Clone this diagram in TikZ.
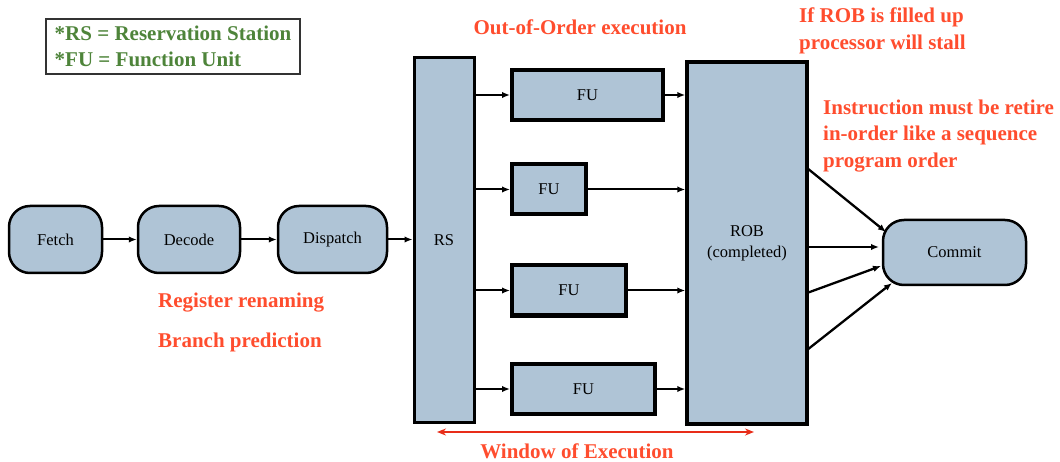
\documentclass[tikz,border=0pt]{standalone}
\usepackage{fontspec}
\setmainfont{Liberation Serif}
\usepackage{xcolor}
\usepackage{tikz}
\usetikzlibrary{positioning,shapes,arrows.meta}

\definecolor{boxblue}{RGB}{175,196,214}
\definecolor{notered}{RGB}{255,77,46}
\definecolor{winred}{RGB}{232,45,25}
\definecolor{keygreen}{RGB}{78,132,58}

\begin{document}
\begin{tikzpicture}[x=1pt,y=-1pt,
			stage/.style = {draw, line width=2.5pt, rounded corners=21pt,
				fill=boxblue, inner sep=0pt, minimum height=67pt,
				font=\fontsize{16.5}{19}\selectfont},
			unit/.style = {draw, line width=3.5pt, fill=boxblue, inner sep=0pt,
				minimum height=50pt, font=\fontsize{16.5}{21}\selectfont},
			note/.style = {text=notered, inner sep=0pt, align=left,
				font=\fontsize{21}{26.5}\selectfont\bfseries},
			flow/.style = {line width=2pt, -{Latex[length=8pt,width=6.5pt]}}]
			\useasboundingbox (0,0) rectangle (1060,462);
			\node[draw=black!80, line width=1.5pt, text=keygreen, align=left,
				minimum width=254pt, minimum height=55pt, inner sep=0pt,
				font=\fontsize{21}{26}\selectfont\bfseries] (key) at (173,46.5)
				{*RS = Reservation Station\\*FU = Function Unit};
			\node[stage, minimum width=93pt] (fetch) at (55.5,239.5) {Fetch};
			\node[stage, minimum width=102pt] (decode) at (189,239.5) {Decode};
			\node[stage, minimum width=109pt] (dispatch) at (332.5,239.5) {Dispatch};
			\node[unit, line width=3pt, minimum width=60pt, minimum height=364pt] (rs) at (444,240) {RS};
			\node[unit, line width=4pt, minimum width=151pt] (fu1) at (587.5,95) {FU};
			\node[unit, line width=4pt, minimum width=74pt] (fu2) at (549,189.5) {FU};
			\node[unit, line width=4pt, minimum width=114pt] (fu3) at (569,290.5) {FU};
			\node[unit, line width=4pt, minimum width=143pt] (fu4) at (583.5,389) {FU};
			\node[unit, align=center, minimum width=120pt, minimum height=362pt] (rob) at (747,243)
				{ROB\\(completed)};
			\node[stage, minimum width=143pt, minimum height=65pt] (commit) at (954.5,252.5) {Commit};
			\draw[flow] (fetch) -- (decode);
			\draw[flow] (decode) -- (dispatch);
			\draw[flow] (dispatch) -- (dispatch -| rs.west);
			\foreach \f in {fu1,fu2,fu3,fu4}
			{
				\draw[flow] (\f.west -| rs.east) -- (\f.west);
				\draw[flow] (\f.east) -- (\f.east -| rob.west);
			}
			\coordinate (out1) at (807,168);
			\coordinate (out2) at (807,247);
			\coordinate (out3) at (807,293);
			\coordinate (out4) at (807,350);
			\coordinate (in1) at (886,232);
			\coordinate (in2) at (879,247);
			\coordinate (in3) at (881,266);
			\coordinate (in4) at (892,283);
			\foreach \i in {1,2,3,4}
			{
				\draw[flow, line width=2.3pt] (out\i) -- (in\i);
			}
			\coordinate (winL) at (437,432);
			\coordinate (winR) at (754,432);
			\draw[winred, line width=1.6pt, {Stealth[length=9pt,width=7pt]}-{Stealth[length=9pt,width=7pt]}] (winL) -- (winR);
			\node[note] (window) at (577,451) {Window of Execution};
			\node[note] (ooo) at (580,27) {Out-of-Order execution};
			\node[note, anchor=west] (stall) at (799,31) {If ROB is filled up\\processor will stall};
			\node[note, anchor=west] (retire) at (823,136) {Instruction must be retire\\in-order like a sequence\\program order};
			\node[note, anchor=west] (rename) at (158,303) {Register renaming};
			\node[note, anchor=west] (branch) at (158,342) {Branch prediction};
\end{tikzpicture}
\end{document}
